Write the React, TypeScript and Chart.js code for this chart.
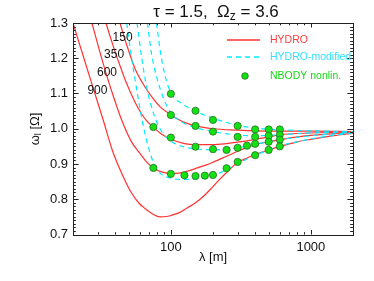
import React, { useEffect, useRef } from "react";
import { Chart, registerables } from "chart.js";
Chart.register(...registerables);

const FONT = "'Liberation Sans', Arial, Helvetica, sans-serif";

// ---- HYDRO (red) curves ----
const lamA = [20, 24.8, 28, 32.9, 38.8, 45.7, 52, 59.5, 65.3, 75, 84, 92, 100, 115, 133, 150, 175, 200, 225, 250, 300, 350, 400, 500, 600, 800, 1000, 1500, 2000];
const omA = [1.3, 1.18, 1.113, 1.024, 0.931, 0.864, 0.82, 0.788, 0.774, 0.757, 0.75, 0.751, 0.754, 0.762, 0.777, 0.79, 0.812, 0.836, 0.858, 0.876, 0.904, 0.917, 0.927, 0.94, 0.95, 0.963, 0.97, 0.981, 0.987];

const lamB = [27.3, 31, 34.6, 39, 44.6, 52, 60.2, 67, 75, 87, 100, 115, 130, 150, 175, 200, 250, 300, 350, 400, 500, 600, 800, 1000, 1500, 2000];
const omB = [1.3, 1.22, 1.155, 1.09, 1.024, 0.965, 0.93, 0.906, 0.889, 0.877, 0.873, 0.874, 0.879, 0.887, 0.896, 0.905, 0.922, 0.936, 0.947, 0.955, 0.963, 0.969, 0.977, 0.981, 0.987, 0.99];

const lamC = [34.4, 38, 42, 48, 55.4, 62, 68, 75, 85, 100, 125, 150, 200, 250, 300, 400, 500, 600, 1000, 2000];
const omC = [1.3, 1.245, 1.194, 1.131, 1.076, 1.041, 1.02, 1.004, 0.986, 0.97, 0.958, 0.955, 0.955, 0.958, 0.962, 0.97, 0.977, 0.983, 0.988, 0.991];

const lamD = [43.3, 48, 55.4, 65, 75, 85, 100, 125, 150, 200, 300, 400, 600, 1000, 2000];
const omD = [1.3, 1.242, 1.171, 1.12, 1.085, 1.06, 1.04, 1.018, 1.008, 1.0, 0.996, 0.994, 0.993, 0.993, 0.992];

// ---- HYDRO-modified (cyan) curves ----
const lamMA = [48.4, 52, 56, 60, 65, 70, 75, 85, 100, 120, 150, 175, 200, 250, 300, 400, 500, 600, 800, 1000, 1500, 2000];
const omMA = [1.3, 1.21, 1.13, 1.06, 0.99, 0.94, 0.905, 0.872, 0.86, 0.856, 0.857, 0.861, 0.867, 0.884, 0.901, 0.925, 0.94, 0.951, 0.963, 0.971, 0.982, 0.988];

const lamMB = [57.3, 62, 67, 75, 85, 100, 125, 150, 200, 250, 300, 400, 500, 600, 1000, 2000];
const omMB = [1.3, 1.2, 1.12, 1.045, 0.995, 0.965, 0.948, 0.943, 0.94, 0.942, 0.946, 0.956, 0.963, 0.969, 0.98, 0.989];

const lamMC = [68, 73, 80, 90, 100, 125, 150, 200, 300, 400, 600, 1000, 2000];
const omMC = [1.3, 1.21, 1.14, 1.08, 1.045, 1.015, 1.003, 0.992, 0.982, 0.98, 0.983, 0.988, 0.991];

const lamMD = [79, 84, 91, 100, 125, 150, 200, 300, 400, 600, 1000, 2000];
const omMD = [1.3, 1.22, 1.15, 1.103, 1.067, 1.05, 1.03, 1.01, 1.002, 0.997, 0.994, 0.992];

// ---- NBODY nonlinear points ----
const nbodyLam = [75, 75, 100, 100, 100, 100, 125, 150, 150, 150, 150, 175, 200, 200, 200, 200, 250, 250, 300, 300, 300, 300, 350, 400, 400, 400, 400, 500, 500, 500, 500, 600, 600, 600, 600];
const nbodyOm = [1.005, 0.889, 1.099, 1.039, 0.975, 0.872, 0.868, 1.051, 1.008, 0.949, 0.866, 0.867, 1.025, 0.992, 0.942, 0.869, 0.94, 0.888, 1.008, 0.977, 0.946, 0.906, 0.952, 0.998, 0.977, 0.957, 0.925, 0.998, 0.98, 0.963, 0.94, 0.998, 0.983, 0.969, 0.95];

// ---- labels / ticks ----
const curveLabels = ["150", "350", "600", "900"];
const curveLabelLam = [45.2, 39.3, 35.0, 29.9];
const curveLabelOm = [1.259, 1.21, 1.16, 1.109];
const xTickValues = [100, 1000];
const yTickStep = 0.1;
const legendLabels = ["HYDRO", "HYDRO-modified", "NBODY nonlin."];

const RED = "rgb(255,50,50)";
const CYAN = "rgb(0,235,255)";
const GREEN = "rgb(20,225,20)";

const pts = (xs: number[], ys: number[]) => xs.map((x, i) => ({ x, y: ys[i] }));

type Part = { t: string; sub?: boolean };
function drawRich(ctx: CanvasRenderingContext2D, parts: Part[], cx: number, cy: number, size: number, color: string) {
  const subSize = Math.round(size * 0.68);
  let w = 0;
  for (const p of parts) {
    ctx.font = `${p.sub ? subSize : size}px ${FONT}`;
    w += ctx.measureText(p.t).width;
  }
  let x = cx - w / 2;
  ctx.fillStyle = color;
  ctx.textBaseline = "middle";
  ctx.textAlign = "left";
  for (const p of parts) {
    ctx.font = `${p.sub ? subSize : size}px ${FONT}`;
    ctx.fillText(p.t, x, p.sub ? cy + size * 0.3 : cy);
    x += ctx.measureText(p.t).width;
  }
}

const decorPlugin = {
  id: "decor",
  afterDatasetsDraw(chart: any) {
    const { ctx, chartArea, scales } = chart;
    const { left, right, top, bottom } = chartArea;
    const xs = scales.x;
    const ys = scales.y;
    ctx.save();
    ctx.strokeStyle = "#222";
    ctx.lineWidth = 1;
    ctx.strokeRect(Math.round(left) + 0.5, Math.round(top) + 0.5, Math.round(right - left), Math.round(bottom - top));
    const seg = (x1: number, y1: number, x2: number, y2: number) => {
      ctx.beginPath();
      ctx.moveTo(x1, y1);
      ctx.lineTo(x2, y2);
      ctx.stroke();
    };
    const n = Math.round((ys.max - ys.min) / 0.01);
    for (let i = 0; i <= n; i++) {
      const v = ys.min + i * 0.01;
      const py = Math.round(ys.getPixelForValue(v)) + 0.5;
      const len = i % 10 === 0 ? 5.6 : 2.8;
      seg(left, py, left + len, py);
      seg(right, py, right - len, py);
    }
    for (const dec of [10, 100, 1000]) {
      for (let k = 1; k <= 9; k++) {
        const v = k * dec;
        if (v < xs.min || v > xs.max) continue;
        const px = Math.round(xs.getPixelForValue(v)) + 0.5;
        const len = k === 1 ? 4.5 : 2.3;
        seg(px, bottom, px, bottom - len);
        seg(px, top, px, top + len);
      }
    }
    ctx.fillStyle = "#111";
    ctx.font = `12px ${FONT}`;
    ctx.textAlign = "center";
    ctx.textBaseline = "middle";
    curveLabels.forEach((t, i) => {
      ctx.fillText(t, xs.getPixelForValue(curveLabelLam[i]), ys.getPixelForValue(curveLabelOm[i]));
    });
    const lx0 = 227, lx1 = 260, tx = 270;
    const rows = [40, 57, 76];
    ctx.lineWidth = 1.3;
    ctx.strokeStyle = RED;
    seg(lx0, rows[0], lx1, rows[0]);
    ctx.strokeStyle = CYAN;
    ctx.setLineDash([5, 4]);
    seg(lx0, rows[1], lx1, rows[1]);
    ctx.setLineDash([]);
    ctx.beginPath();
    ctx.arc(245, rows[2], 3.3, 0, Math.PI * 2);
    ctx.fillStyle = GREEN;
    ctx.fill();
    ctx.strokeStyle = "rgb(40,110,40)";
    ctx.lineWidth = 0.8;
    ctx.stroke();
    ctx.font = `10.5px ${FONT}`;
    ctx.textAlign = "left";
    const lc = ["rgb(255,60,60)", "rgb(50,225,255)", "rgb(20,215,20)"];
    legendLabels.forEach((t, i) => {
      ctx.fillStyle = lc[i];
      ctx.fillText(t, tx, rows[i]);
    });
    drawRich(ctx, [{ t: "\u03c4 = 1.5,  \u03a9" }, { t: "z", sub: true }, { t: " = 3.6" }], 216, 12, 17, "#111");
    drawRich(ctx, [{ t: "\u03bb [m]" }], 213, 257, 13, "#111");
    ctx.save();
    ctx.translate(35, 129);
    ctx.rotate(-Math.PI / 2);
    drawRich(ctx, [{ t: "\u03c9" }, { t: "l", sub: true }, { t: " [\u03a9]" }], 0, 0, 13, "#111");
    ctx.restore();
    ctx.restore();
  },
};

export default function App() {
  const ref = useRef<HTMLCanvasElement>(null);
  useEffect(() => {
    document.body.style.margin = "0";
    const canvas = ref.current!;
    const lineDs = (label: string, xs: number[], ys: number[], color: string, dash: number[]) => ({
      type: "line" as const,
      label,
      data: pts(xs, ys),
      borderColor: color,
      borderWidth: 1.2,
      borderDash: dash,
      pointRadius: 0,
      fill: false,
      cubicInterpolationMode: "monotone" as const,
    });
    const chart = new Chart(canvas, {
      type: "line",
      data: {
        datasets: [
          {
            type: "scatter",
            label: "NBODY nonlin.",
            data: pts(nbodyLam, nbodyOm),
            pointRadius: 3.6,
            pointBackgroundColor: GREEN,
            pointBorderColor: "rgb(40,110,40)",
            pointBorderWidth: 0.8,
            showLine: false,
          } as any,
          lineDs("HYDRO-modified 150", lamMD, omMD, CYAN, [5, 4]),
          lineDs("HYDRO-modified 350", lamMC, omMC, CYAN, [5, 4]),
          lineDs("HYDRO-modified 600", lamMB, omMB, CYAN, [5, 4]),
          lineDs("HYDRO-modified 900", lamMA, omMA, CYAN, [5, 4]),
          lineDs("HYDRO 150", lamD, omD, RED, []),
          lineDs("HYDRO 350", lamC, omC, RED, []),
          lineDs("HYDRO 600", lamB, omB, RED, []),
          lineDs("HYDRO 900", lamA, omA, RED, []),
        ],
      },
      options: {
        responsive: false,
        animation: false,
        devicePixelRatio: 1,
        layout: { padding: { top: 23, right: 21, left: 0, bottom: 0 } },
        plugins: { legend: { display: false }, tooltip: { enabled: false }, title: { display: false } },
        scales: {
          x: {
            type: "logarithmic",
            min: 20,
            max: 2000,
            grid: { display: false, drawTicks: false },
            border: { display: false },
            ticks: {
              color: "#111",
              font: { family: FONT, size: 13 },
              padding: 5,
              autoSkip: false,
              maxRotation: 0,
              callback: (v: any) => String(v),
            },
            afterBuildTicks: (s: any) => {
              s.ticks = xTickValues.map((v) => ({ value: v }));
            },
            afterFit: (s: any) => {
              s.height = 46.5;
            },
          },
          y: {
            type: "linear",
            min: 0.7,
            max: 1.3,
            grid: { display: false, drawTicks: false },
            border: { display: false },
            ticks: {
              stepSize: yTickStep,
              color: "#111",
              font: { family: FONT, size: 13 },
              padding: 5,
              callback: (v: any) => Number(v).toFixed(1),
            },
            afterFit: (s: any) => {
              s.width = 73;
            },
          },
        },
      } as any,
      plugins: [decorPlugin],
    });
    return () => chart.destroy();
  }, []);
  return (
    <div style={{ width: 374, height: 281 }}>
      <canvas ref={ref} width={374} height={281} style={{ display: "block" }} />
    </div>
  );
}
